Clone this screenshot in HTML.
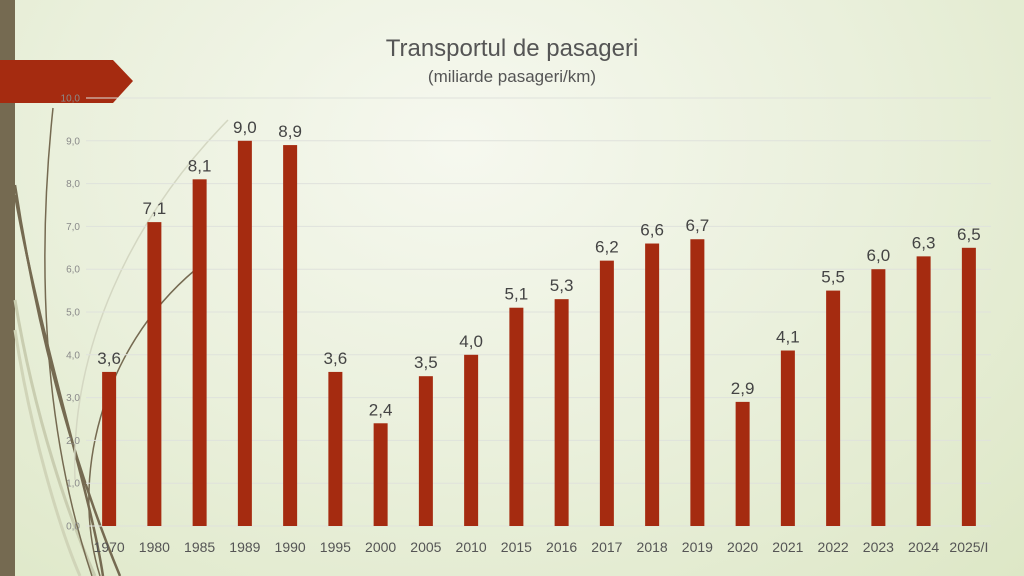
<!DOCTYPE html>
<html><head><meta charset="utf-8"><style>
html,body{margin:0;padding:0;overflow:hidden}
body{width:1024px;height:576px;background:radial-gradient(ellipse at 45% 25%,#f6f8ef 0%,#eaf0dc 50%,#dde7c6 100%);font-family:"Liberation Sans",sans-serif}
svg{display:block}
</style></head><body>
<svg id="chart" width="1024" height="576" xmlns="http://www.w3.org/2000/svg">
<rect x="0" y="0" width="15" height="576" fill="#756a51"/>
<g fill="none">
<path d="M15,185 C40,350 80,480 120,576" stroke="#756a51" stroke-width="2.5"/>
<path d="M15,195 C45,360 90,490 103,576" stroke="#756a51" stroke-width="2.5"/>
<path d="M15,300 C35,420 70,520 95,576" stroke="#c9cdb0" stroke-width="3"/>
<path d="M15,330 C30,430 60,530 80,576" stroke="#d0d4b8" stroke-width="3"/>
<path d="M53,108 C38,250 40,420 92,576" stroke="#756a51" stroke-width="1.5"/>
<path d="M100,576 C70,480 100,350 195,270" stroke="#756a51" stroke-width="1.5"/>
<path d="M75,480 C70,350 130,220 228,120" stroke="#d4d7c2" stroke-width="1.5"/>
</g>
<polygon points="0,60 113,60 133,81 113,103 0,103" fill="#a52b10"/>
<text x="512" y="56" text-anchor="middle" font-size="24" fill="#555">Transportul de pasageri</text>
<text x="512" y="82" text-anchor="middle" font-size="17" fill="#555">(miliarde pasageri/km)</text>
<g id="grid"></g><g id="bars"></g>
</svg>
<script>
const categories=["1970","1980","1985","1989","1990","1995","2000","2005","2010","2015","2016","2017","2018","2019","2020","2021","2022","2023","2024","2025/I"];
const values=[3.6,7.1,8.1,9.0,8.9,3.6,2.4,3.5,4.0,5.1,5.3,6.2,6.6,6.7,2.9,4.1,5.5,6.0,6.3,6.5];
const valueLabels=["3,6","7,1","8,1","9,0","8,9","3,6","2,4","3,5","4,0","5,1","5,3","6,2","6,6","6,7","2,9","4,1","5,5","6,0","6,3","6,5"];
const ticks=[0,1,2,3,4,5,6,7,8,9,10];
const tickLabels=["0,0","1,0","2,0","3,0","4,0","5,0","6,0","7,0","8,0","9,0","10,0"];
const NS="http://www.w3.org/2000/svg";
const x0=86,x1=991,yBase=526,yTop=98,ymax=10;
const y=v=>yBase-(v/ymax)*(yBase-yTop);
const band=(x1-x0)/categories.length;
const xc=i=>x0+band*(i+0.5)+0.5;
function mk(t,a){const e=document.createElementNS(NS,t);for(const k in a)e.setAttribute(k,a[k]);return e;}
const g=document.getElementById('grid'),b=document.getElementById('bars');
ticks.forEach((t,i)=>{
const l=mk('line',{x1:x0,x2:x1,y1:y(t),y2:y(t),stroke:'#dfe2dc','stroke-width':1});


g.appendChild(l);
const tx=mk('text',{x:80,y:y(t)+3.5,'text-anchor':'end','font-size':10,fill:'#8a8a8a'});


tx.textContent=tickLabels[i];g.appendChild(tx);
});
categories.forEach((c,i)=>{
const r=mk('rect',{x:xc(i)-7,y:y(values[i]),width:14,height:yBase-y(values[i]),fill:'#a52b10'});


b.appendChild(r);
const vl=mk('text',{x:xc(i),y:y(values[i])-8,'text-anchor':'middle','font-size':17,fill:'#444'});


vl.textContent=valueLabels[i];b.appendChild(vl);
const xl=mk('text',{x:xc(i),y:552,'text-anchor':'middle','font-size':14,fill:'#555'});


xl.textContent=c;b.appendChild(xl);
});
</script>
</body></html>
